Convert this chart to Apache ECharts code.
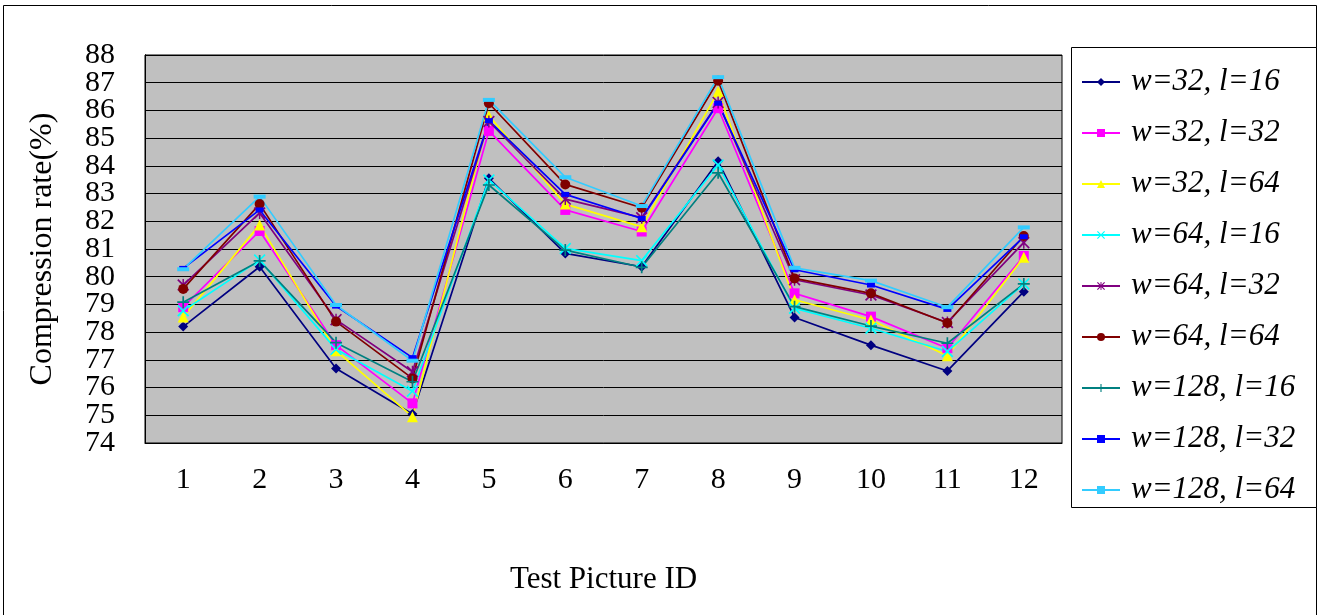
<!DOCTYPE html>
<html>
<head>
<meta charset="utf-8">
<script src="https://cdn.jsdelivr.net/npm/echarts@6/dist/echarts.min.js"></script>
<style>
html,body{margin:0;padding:0;background:#fff;}
#c{width:1319px;height:615px;}
</style>
</head>
<body>
<div id="c"></div>
<script>
var categories = ['1','2','3','4','5','6','7','8','9','10','11','12'];
var seriesNames = ['w=32, l=16','w=32, l=32','w=32, l=64','w=64, l=16','w=64, l=32','w=64, l=64','w=128, l=16','w=128, l=32','w=128, l=64'];
var w32l16  = [78.2, 80.36, 76.69, 75.05, 83.55, 80.84, 80.36, 84.17, 78.53, 77.53, 76.6, 79.46];
var w32l32  = [78.9, 81.65, 77.53, 75.43, 85.26, 82.41, 81.63, 86.08, 79.4, 78.56, 77.42, 80.75];
var w32l64  = [78.55, 81.87, 77.33, 74.95, 85.8, 82.62, 81.8, 86.68, 79.17, 78.44, 77.15, 80.7];
var w64l16  = [78.77, 80.6, 77.38, 75.87, 83.49, 81.02, 80.58, 84.03, 78.86, 78.14, 77.3, 79.74];
var w64l32  = [79.7, 82.3, 78.45, 76.57, 85.6, 82.8, 82.13, 86.29, 79.89, 79.34, 78.35, 81.23];
var w64l64  = [79.56, 82.62, 78.38, 76.33, 86.26, 83.33, 82.49, 87.07, 79.94, 79.4, 78.33, 81.47];
var w128l16 = [79.08, 80.57, 77.62, 76.21, 83.31, 80.96, 80.34, 83.75, 78.92, 78.22, 77.6, 79.74];
var w128l32 = [80.3, 82.41, 78.94, 77.08, 85.63, 82.97, 82.1, 86.26, 80.25, 79.7, 78.82, 81.44];
var w128l64 = [80.27, 82.89, 78.98, 76.97, 86.38, 83.59, 82.55, 87.2, 80.32, 79.86, 78.9, 81.78];
var yTicks = [74,75,76,77,78,79,80,81,82,83,84,85,86,87,88];

var seriesData = [w32l16, w32l32, w32l64, w64l16, w64l32, w64l64, w128l16, w128l32, w128l64];
var colors = ['#000080','#FF00FF','#FFFF00','#00FFFF','#800080','#800000','#008080','#0000FF','#33CCFF'];
var xPath = 'path://M0,1L1,0L5,4L9,0L10,1L6,5L10,9L9,10L5,6L1,10L0,9L4,5Z';
var starPath = 'path://M0,1L1,0L5,4L9,0L10,1L6,5L10,9L9,10L5,6L1,10L0,9L4,5Z M4.4,0L5.6,0L5.6,10L4.4,10Z';
var plusPath = 'path://M4.3,0L5.7,0L5.7,4.3L10,4.3L10,5.7L5.7,5.7L5.7,10L4.3,10L4.3,5.7L0,5.7L0,4.3L4.3,4.3Z';
var symbols = ['diamond','rect','triangle',xPath,starPath,'circle',plusPath,'rect','rect'];
var symSizes = [10, 10, 11, 12, 12, 10, 12, [8,5], [12,4]];

var FONT = "'Liberation Serif','Times New Roman',serif";

var series = seriesData.map(function(d, i){
  return {
    name: seriesNames[i],
    type: 'line',
    yAxisIndex: 1,
    data: d,
    symbol: symbols[i],
    symbolSize: symSizes[i],
    showAllSymbol: true,
    lineStyle: {color: colors[i], width: 1.7},
    itemStyle: {color: colors[i]},
    emphasis: {disabled: true},
    animation: false
  };
});

var labelStyle = {fontFamily:FONT, fontSize:30, color:'#000', margin:30};

var chart = echarts.init(document.getElementById('c'));
chart.setOption({
  animation: false,
  backgroundColor: '#fff',
  graphic: [
    {type:'rect', shape:{x:3.5, y:5.5, width:1313, height:650}, style:{fill:'none', stroke:'#000', lineWidth:1}, z:-1},
    {type:'rect', shape:{x:1071.5, y:47.5, width:245, height:460}, style:{fill:'#fff', stroke:'#000', lineWidth:1}, z:-1}
  ],
  grid: {left:145, top:55, width:917, height:388, show:true, backgroundColor:'#C0C0C0', borderColor:'#000', borderWidth:1},
  legend: {
    orient:'vertical', left:1071, top:56, padding:[10,10,10,10],
    itemWidth:38, itemHeight:10, itemGap:19,
    textStyle:{fontFamily:FONT, fontStyle:'italic', fontSize:31, color:'#000', lineHeight:32, padding:[0,0,0,6]},
    data: seriesNames
  },
  xAxis: {
    type:'category', data:categories, boundaryGap:true,
    axisLine:{lineStyle:{color:'#000', width:1}},
    axisTick:{inside:true, length:10, lineStyle:{color:'#333'}},
    axisLabel:{fontFamily:FONT, fontSize:30, color:'#000', margin:22},
    name:'Test Picture ID', nameLocation:'middle', nameGap:121,
    nameTextStyle:{fontFamily:FONT, fontSize:31, color:'#000', verticalAlign:'top'}
  },
  yAxis: [
    {
      type:'value', position:'left', min:74, max:88, interval:2,
      axisLine:{show:true, lineStyle:{color:'#000'}},
      axisTick:{show:false},
      splitLine:{show:false},
      axisLabel:Object.assign({}, labelStyle, {showMinLabel:true, showMaxLabel:true,
        formatter:function(v){ return (yTicks.indexOf(v) >= 0 && v % 2 === 0) ? String(v) : ''; }}),
      name:'Compression rate(%)', nameLocation:'middle', nameGap:86, nameRotate:90,
      nameTextStyle:{fontFamily:FONT, fontSize:32, color:'#000'}
    },
    {
      type:'value', position:'left', offset:0, min:74, max:88, interval:1,
      axisLine:{show:true, lineStyle:{color:'#000'}},
      axisTick:{show:true, inside:true, length:8, lineStyle:{color:'#000'}},
      splitLine:{show:true, lineStyle:{color:'#000', width:1}},
      axisLabel:Object.assign({}, labelStyle, {showMinLabel:false, showMaxLabel:false,
        formatter:function(v){ return (yTicks.indexOf(v) >= 0 && v % 2 === 1) ? String(v) : ''; }})
    }
  ],
  series: series
});
</script>
</body>
</html>
